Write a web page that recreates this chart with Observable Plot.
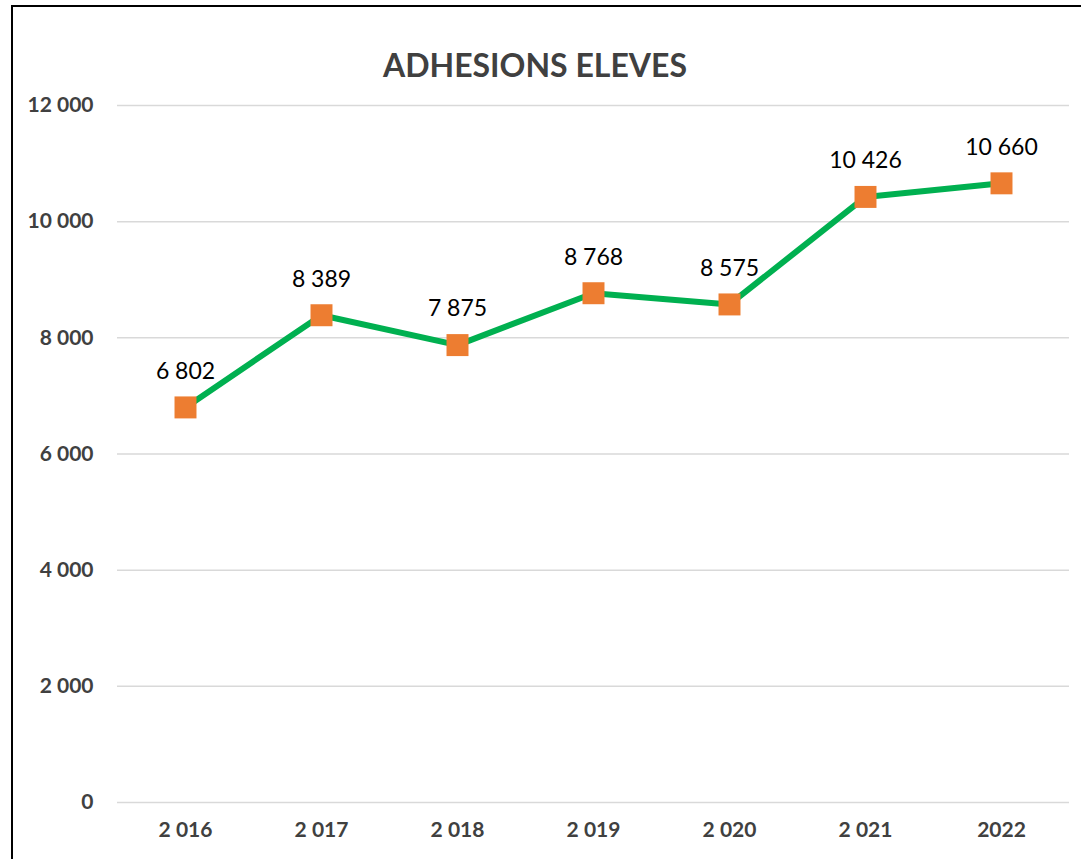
<!DOCTYPE html>
<html><head><meta charset="utf-8">
<script src="https://cdn.jsdelivr.net/npm/d3@7"></script>
<script src="https://cdn.jsdelivr.net/npm/@observablehq/plot@0.6"></script>
<style>
html,body{margin:0;padding:0;background:#fff;overflow:hidden;width:1081px;height:859px;}
#frame{position:absolute;left:11px;top:5px;width:2000px;height:2000px;border-left:2px solid #000;border-top:2px solid #000;pointer-events:none;}
#title{position:absolute;left:0;top:43px;width:1070px;text-align:center;font-family:Lato,sans-serif;font-weight:bold;font-size:32px;color:#404040;line-height:44px;}
#chart{position:absolute;left:0;top:90px;}
</style></head>
<body>
<div id="title">ADHESIONS ELEVES</div>
<div id="chart"></div>
<div id="frame"></div>
<script>
const years = ["2 016","2 017","2 018","2 019","2 020","2 021","2022"];
const values = [6802, 8389, 7875, 8768, 8575, 10426, 10660];
const yTicks = [0, 2000, 4000, 6000, 8000, 10000, 12000];
const data = years.map((y,i)=>({year:y, value:values[i]}));
const fmt = v => d3.format(",")(v).replace(/,/g," ");
const chart = Plot.plot({
  width: 1081, height: 769,
  marginLeft: 117, marginRight: 12, marginTop: 15, marginBottom: 57,
  style: {fontFamily: "Lato, sans-serif", background: "#fff"},
  x: {type: "point", domain: years, padding: 0.5, label: null, tickSize: 0, tickPadding: 20},
  y: {domain: [0, 12000], ticks: yTicks, label: null, tickSize: 0, tickPadding: 24, tickFormat: fmt},
  marks: [
    Plot.gridY(yTicks, {stroke: "#d9d9d9", strokeOpacity: 1, strokeWidth: 1.5}),
    Plot.axisY({ticks: yTicks, tickFormat: fmt, tickSize: 0, tickPadding: 24, fontSize: 21, fontWeight: "bold", fill: "#404040", label: null}),
    Plot.axisX({tickSize: 0, tickPadding: 20, fontSize: 21, fontWeight: "bold", fill: "#404040", label: null}),
    Plot.line(data, {x: "year", y: "value", stroke: "#00B050", strokeWidth: 6}),
    Plot.dot(data, {x: "year", y: "value", symbol: "square", r: 12.4, fill: "#ED7D31", stroke: "none"}),
    Plot.text(data, {x: "year", y: "value", text: d => fmt(d.value), dy: -36, fontSize: 23, fill: "#000"})
  ]
});
document.getElementById("chart").appendChild(chart);
</script>
</body></html>
